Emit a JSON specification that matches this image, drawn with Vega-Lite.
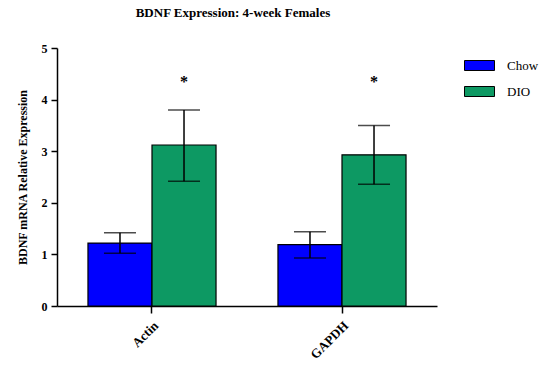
{
  "$schema": "https://vega.github.io/schema/vega-lite/v6.json",
  "width": 380,
  "height": 258,
  "autosize": {"type": "none"},
  "padding": {"left": 57, "top": 48, "right": 111, "bottom": 75},
  "background": "white",
  "title": {
    "text": "BDNF Expression: 4-week Females",
    "font": "Liberation Serif",
    "fontSize": 13,
    "fontWeight": "bold",
    "color": "black",
    "anchor": "middle",
    "offset": 22,
    "dx": -14
  },
  "config": {
    "view": {"stroke": null},
    "font": "Liberation Serif",
    "axis": {
      "labelFont": "Liberation Serif",
      "labelFontWeight": "bold",
      "labelColor": "black",
      "titleFont": "Liberation Serif",
      "titleFontWeight": "bold",
      "titleColor": "black",
      "domainColor": "black",
      "tickColor": "black",
      "domainWidth": 1.5,
      "tickWidth": 1.5,
      "grid": false
    }
  },
  "data": {
    "values": [
      {"gene": "Actin", "group": "Chow", "mean": 1.22, "low": 1.02, "high": 1.42, "star": null},
      {"gene": "Actin", "group": "DIO", "mean": 3.12, "low": 2.42, "high": 3.80, "star": "*"},
      {"gene": "GAPDH", "group": "Chow", "mean": 1.19, "low": 0.93, "high": 1.44, "star": null},
      {"gene": "GAPDH", "group": "DIO", "mean": 2.93, "low": 2.36, "high": 3.50, "star": "*"}
    ]
  },
  "encoding": {
    "x": {
      "field": "gene",
      "type": "nominal",
      "scale": {"paddingInner": 0.326, "paddingOuter": 0.163},
      "axis": {
        "title": null,
        "labelAngle": -45,
        "labelFontSize": 13,
        "tickSize": 7,
        "labelPadding": 6
      }
    },
    "xOffset": {"field": "group", "type": "nominal", "scale": {"paddingInner": 0, "paddingOuter": 0}}
  },
  "layer": [
    {
      "mark": {"type": "bar", "stroke": "black", "strokeWidth": 1.2},
      "encoding": {
        "y": {
          "field": "mean",
          "type": "quantitative",
          "scale": {"domain": [0, 5], "nice": false},
          "axis": {
            "title": "BDNF mRNA Relative Expression",
            "titleFontSize": 12,
            "titlePadding": 12,
            "labelFontSize": 12,
            "values": [0, 1, 2, 3, 4, 5],
            "tickSize": 6,
            "labelPadding": 4
          }
        },
        "color": {
          "field": "group",
          "type": "nominal",
          "scale": {"domain": ["Chow", "DIO"], "range": ["#0000ff", "#0d9963"]},
          "legend": {
            "title": null,
            "orient": "none",
            "legendX": 412,
            "legendY": 7,
            "symbolType": "M-1.5,-0.5L1.5,-0.5L1.5,0.5L-1.5,0.5Z",
            "symbolSize": 400,
            "symbolStrokeColor": "black",
            "symbolStrokeWidth": 1,
            "symbolOpacity": 1,
            "labelFont": "Liberation Serif",
            "labelFontSize": 13,
            "labelColor": "black",
            "labelOffset": 17,
            "rowPadding": 8,
            "padding": 0
          }
        }
      }
    },
    {
      "mark": {"type": "rule", "color": "black", "strokeWidth": 1.5},
      "encoding": {
        "y": {"field": "low", "type": "quantitative"},
        "y2": {"field": "high"}
      }
    },
    {
      "mark": {"type": "tick", "color": "black", "size": 32, "thickness": 1.5, "orient": "horizontal"},
      "encoding": {"y": {"field": "low", "type": "quantitative"}}
    },
    {
      "mark": {"type": "tick", "color": "black", "size": 32, "thickness": 1.5, "orient": "horizontal"},
      "encoding": {"y": {"field": "high", "type": "quantitative"}}
    },
    {
      "transform": [{"filter": "datum.star != null"}],
      "mark": {"type": "text", "fontSize": 16, "fontWeight": "bold", "color": "black", "baseline": "middle", "dy": 4},
      "encoding": {
        "y": {"datum": 4.42, "type": "quantitative"},
        "text": {"field": "star"}
      }
    }
  ]
}
